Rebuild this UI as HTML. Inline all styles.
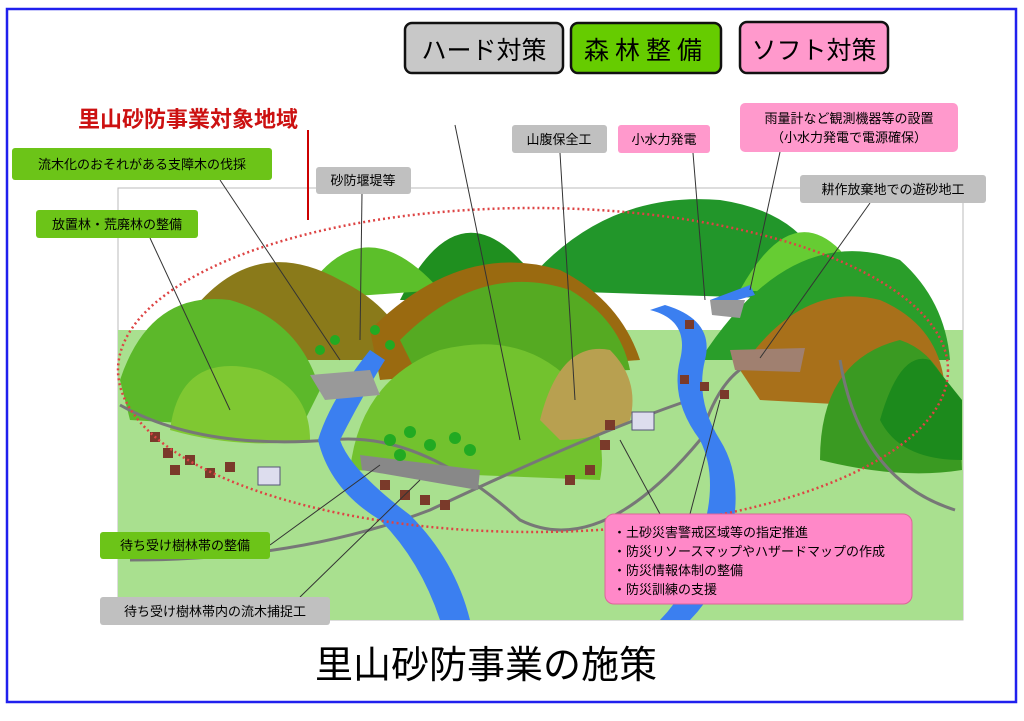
<!DOCTYPE html>
<html><head><meta charset="utf-8"><style>
body{margin:0;background:#fff;width:1024px;height:716px;overflow:hidden;font-family:"Liberation Sans","Noto Sans CJK JP",sans-serif}
</style></head><body>
<svg width="1024" height="716" xmlns="http://www.w3.org/2000/svg" style="font-family:'Liberation Sans','Noto Sans CJK JP',sans-serif">
<rect x="7" y="9" width="1009" height="693" fill="#fff" stroke="#2020ee" stroke-width="2.5"/>
<!-- landscape base -->
<rect x="118" y="188" width="845" height="432" fill="#fff" stroke="#bbb"/>
<path d="M118 330 L963 330 L963 620 L118 620 Z" fill="#a9e08f"/>
<!-- back mountains -->
<path d="M400 300 Q455 190 520 260 Q560 300 600 300 Z" fill="#1f8f1f"/>
<path d="M520 290 Q600 190 720 200 Q820 215 830 300 Z" fill="#22962a"/>
<path d="M740 290 Q790 200 840 250 Q870 290 880 300 Z" fill="#66cc33"/>
<path d="M300 300 Q360 200 440 290 Z" fill="#5cbf2a"/>
<path d="M700 360 Q790 220 900 260 Q945 300 950 360 Z" fill="#2a9e2a"/>
<path d="M185 320 Q250 230 340 280 Q400 310 410 360 L200 360 Z" fill="#8a7a1a"/>
<path d="M120 380 Q150 290 230 300 Q300 320 320 390 L300 430 L130 420 Z" fill="#5cb82a"/>
<path d="M170 430 Q180 350 260 370 Q310 390 310 440 Q240 450 170 430Z" fill="#7fc832"/>
<path d="M370 330 Q460 240 560 270 Q620 300 640 360 L380 380 Z" fill="#9a6a10"/>
<path d="M400 340 Q480 260 570 290 Q620 320 630 370 L420 380 Z" fill="#55aa22"/>
<path d="M350 470 Q360 380 440 350 Q520 330 570 380 Q610 430 600 480 Z" fill="#72c22e"/>
<path d="M540 420 Q560 340 610 350 Q640 380 630 420 Q600 440 560 440Z" fill="#b8a050"/>
<path d="M740 370 Q800 280 880 300 Q950 330 945 410 L760 400 Z" fill="#a8701a"/>
<path d="M820 460 Q820 360 900 340 Q960 360 962 470 Q900 480 820 460Z" fill="#3a9a22"/>
<path d="M880 420 Q900 350 930 360 L962 400 L962 460 Q900 460 880 420Z" fill="#1c8a1c"/>
<!-- roads -->
<path d="M120 405 Q200 450 330 440 Q420 430 520 520 Q600 560 700 440 Q720 370 760 360" fill="none" stroke="#777" stroke-width="3"/>
<path d="M130 560 Q300 560 430 510 Q600 430 690 400" fill="none" stroke="#777" stroke-width="3"/>
<path d="M840 360 Q860 480 955 510" fill="none" stroke="#777" stroke-width="3"/>
<!-- river -->
<path d="M370 350 Q330 400 318 440 Q330 490 380 520 Q420 560 440 620 L470 620 Q455 560 410 515 Q350 470 340 440 Q360 400 385 360 Z" fill="#3b7ff0"/>
<path d="M650 310 Q690 320 680 360 Q670 400 700 440 Q720 480 700 540 Q690 590 660 620 L690 620 Q720 590 730 540 Q745 480 720 440 Q695 400 705 360 Q715 320 665 305 Z" fill="#3b7ff0"/>
<path d="M710 300 L750 285 L755 295 L720 305 Z" fill="#3b7ff0"/>
<!-- dams -->
<polygon points="310,375 370,370 380,395 325,400" fill="#999"/>
<polygon points="730,350 805,348 800,372 735,370" fill="#a08070"/>
<polygon points="710,300 745,300 740,318 712,315" fill="#999"/>
<polygon points="360,455 480,470 478,490 362,470" fill="#888"/>
<!-- trees -->
<g fill="#22aa22"><circle cx="390" cy="440" r="6"/><circle cx="410" cy="432" r="6"/><circle cx="430" cy="445" r="6"/><circle cx="455" cy="438" r="6"/><circle cx="470" cy="450" r="6"/><circle cx="400" cy="455" r="6"/><circle cx="320" cy="350" r="5"/><circle cx="335" cy="340" r="5"/><circle cx="375" cy="330" r="5"/><circle cx="390" cy="345" r="5"/></g>
<!-- houses -->
<g fill="#7a3a2a"><rect x="150" y="432" width="10" height="10"/><rect x="163" y="448" width="10" height="10"/><rect x="185" y="455" width="10" height="10"/><rect x="170" y="465" width="10" height="10"/><rect x="205" y="468" width="10" height="10"/><rect x="225" y="462" width="10" height="10"/><rect x="380" y="480" width="10" height="10"/><rect x="400" y="490" width="10" height="10"/><rect x="420" y="495" width="10" height="10"/><rect x="440" y="500" width="10" height="10"/><rect x="565" y="475" width="10" height="10"/><rect x="585" y="465" width="10" height="10"/><rect x="600" y="440" width="10" height="10"/><rect x="605" y="420" width="10" height="10"/><rect x="680" y="375" width="9" height="9"/><rect x="700" y="382" width="9" height="9"/><rect x="720" y="390" width="9" height="9"/><rect x="685" y="320" width="9" height="9"/></g>
<rect x="258" y="467" width="22" height="18" fill="#dde" stroke="#557"/>
<rect x="632" y="412" width="22" height="18" fill="#dde" stroke="#557"/>
<!-- dotted ellipse -->
<ellipse cx="533" cy="370" rx="415" ry="162" fill="none" stroke="#dd4444" stroke-width="2.5" stroke-dasharray="2 3"/>
<!-- leader lines -->
<g stroke="#333" stroke-width="1" fill="none">
<line x1="220" y1="180" x2="340" y2="360"/><line x1="150" y1="238" x2="230" y2="410"/>
<line x1="362" y1="193" x2="360" y2="340"/><line x1="455" y1="125" x2="520" y2="440"/>
<line x1="560" y1="153" x2="575" y2="400"/><line x1="693" y1="153" x2="705" y2="300"/>
<line x1="780" y1="152" x2="750" y2="290"/><line x1="870" y1="203" x2="760" y2="358"/>
<line x1="270" y1="545" x2="380" y2="465"/><line x1="300" y1="597" x2="420" y2="480"/>
<line x1="690" y1="514" x2="720" y2="400"/><line x1="660" y1="514" x2="620" y2="440"/>
</g>
<line x1="308" y1="130" x2="308" y2="220" stroke="#cc0000" stroke-width="2"/>
<!-- top legend -->
<rect x="405" y="23" width="158" height="50" rx="7" fill="#c8c8c8" stroke="#111" stroke-width="2.5"/>
<text x="484" y="59" font-size="25" text-anchor="middle">ハード対策</text>
<rect x="571" y="23" width="150" height="50" rx="7" fill="#66cc00" stroke="#111" stroke-width="2.5"/>
<text x="646" y="59" font-size="25" text-anchor="middle" letter-spacing="6">森林整備</text>
<rect x="740" y="22" width="148" height="51" rx="7" fill="#ff99cc" stroke="#111" stroke-width="2.5"/>
<text x="814" y="59" font-size="25" text-anchor="middle">ソフト対策</text>
<text x="78" y="127" font-size="22" font-weight="bold" fill="#cc1111">里山砂防事業対象地域</text>
<!-- labels -->
<g font-size="13">
<rect x="12" y="148" width="260" height="32" rx="3" fill="#6cc418"/><text x="142" y="169" text-anchor="middle">流木化のおそれがある支障木の伐採</text>
<rect x="316" y="167" width="95" height="27" rx="3" fill="#c0c0c0"/><text x="363" y="185" text-anchor="middle">砂防堰堤等</text>
<rect x="36" y="210" width="162" height="28" rx="3" fill="#6cc418"/><text x="117" y="229" text-anchor="middle">放置林・荒廃林の整備</text>
<rect x="512" y="125" width="95" height="28" rx="3" fill="#c0c0c0"/><text x="559" y="144" text-anchor="middle">山腹保全工</text>
<rect x="618" y="125" width="92" height="28" rx="3" fill="#ff99cc"/><text x="664" y="144" text-anchor="middle">小水力発電</text>
<rect x="740" y="103" width="218" height="49" rx="5" fill="#ff99cc"/><text x="849" y="123" text-anchor="middle">雨量計など観測機器等の設置</text><text x="849" y="142" text-anchor="middle">（小水力発電で電源確保）</text>
<rect x="800" y="175" width="186" height="28" rx="3" fill="#c0c0c0"/><text x="893" y="194" text-anchor="middle">耕作放棄地での遊砂地工</text>
<rect x="100" y="532" width="170" height="27" rx="3" fill="#6cc418"/><text x="185" y="550" text-anchor="middle">待ち受け樹林帯の整備</text>
<rect x="100" y="597" width="230" height="28" rx="3" fill="#c0c0c0"/><text x="215" y="616" text-anchor="middle">待ち受け樹林帯内の流木捕捉工</text>
<rect x="605" y="514" width="307" height="90" rx="9" fill="#ff88c8" stroke="#dd6699"/>
<text x="613" y="537">・土砂災害警戒区域等の指定推進</text>
<text x="613" y="556">・防災リソースマップやハザードマップの作成</text>
<text x="613" y="575">・防災情報体制の整備</text>
<text x="613" y="594">・防災訓練の支援</text>
</g>
<text x="486" y="678" font-size="38" text-anchor="middle">里山砂防事業の施策</text>
</svg>
</body></html>
